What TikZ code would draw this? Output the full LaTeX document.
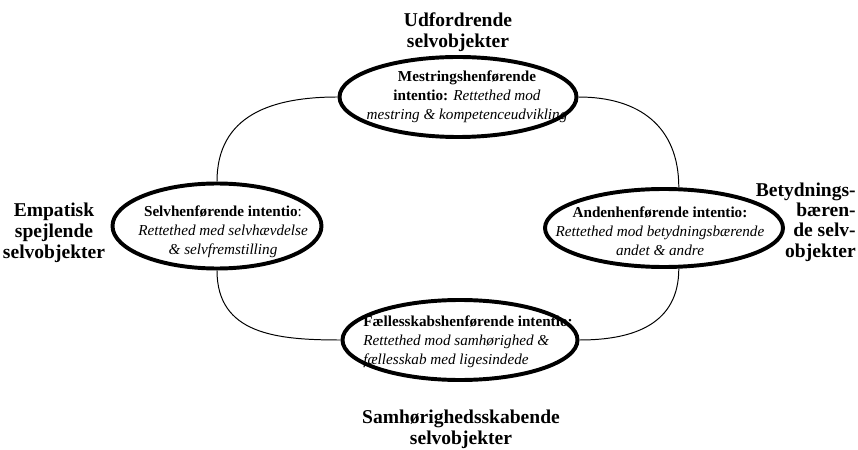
\documentclass[tikz,border=0pt]{standalone}
\usepackage{fontspec}
\setmainfont{Liberation Serif}
\usepackage{tikz}
\usetikzlibrary{shapes.geometric, positioning}

\begin{document}
\begin{tikzpicture}[
      ring/.style={
        ellipse,
        draw,
        line width=2.8pt,
        inner sep=0pt,
      },
      intent/.style={
        align=center,
        font=\fontsize{10.8}{13.6}\selectfont,
      },
      heading/.style={
        align=center,
        font=\fontsize{13.9}{15}\selectfont\bfseries,
      },
      link/.style={line width=0.7pt,looseness=1.15},
      ]
      \useasboundingbox (0,0) rectangle (21.45,11.225);
      % texts inside the rings
      \node[intent] (mesttxt) at (11.675,8.8) {\textbf{Mestringshenførende}\\\textbf{intentio:} \textit{Rettethed mod}\\\textit{mestring \& kompetenceudvikling}};
      \node[intent] (selvtxt) at (5.575,5.425) {\textbf{Selvhenførende intentio}:\\\textit{Rettethed med selvhævdelse}\\\textit{\& selvfremstilling}};
      \node[intent] (andentxt) at (16.5,5.45) {\textbf{Andenhenførende intentio:}\\\textit{Rettethed mod betydningsbærende}\\\textit{andet \& andre}};
      \node[intent,align=left] (faellestxt) at (11.7,2.675) {\textbf{Fællesskabshenførende intentio:}\\\textit{Rettethed mod samhørighed \&}\\\textit{fællesskab med ligesindede}};
      % rings
      \node[ring,minimum width=5.925cm,minimum height=2cm] (mest) at (11.45,8.8) {};
      \node[ring,minimum width=5.225cm,minimum height=2.125cm] (selv) at (5.425,5.575) {};
      \node[ring,minimum width=5.95cm,minimum height=1.95cm] (anden) at (16.6,5.525) {};
      \node[ring,minimum width=5.875cm,minimum height=2cm] (faelles) at (11.5,2.725) {};
      % outer labels
      \node[heading] (udf) at (11.45,10.425) {Udfordrende\\selvobjekter};
      \node[heading] (emp) at (1.35,5.4) {Empatisk\\spejlende\\selvobjekter};
      \node[heading,align=right,anchor=east,inner xsep=0pt,font=\fontsize{13.9}{14.5}\selectfont\bfseries] (bet) at (21.4,5.675) {Betydnings-\\bæren-\\de selv-\\objekter};
      \node[heading] (sam) at (11.525,0.5) {Samhørighedsskabende\\selvobjekter};
      % arcs
      \draw[link] (mest.west) to[out=180,in=90] (selv.north);
      \draw[link] (mest.east) to[out=0,in=90] (anden.70);
      \draw[link] (selv.south) to[out=-90,in=180] (faelles.west);
      \draw[link] (anden.-70) to[out=-90,in=0] (faelles.east);
    \end{tikzpicture}
\end{document}
